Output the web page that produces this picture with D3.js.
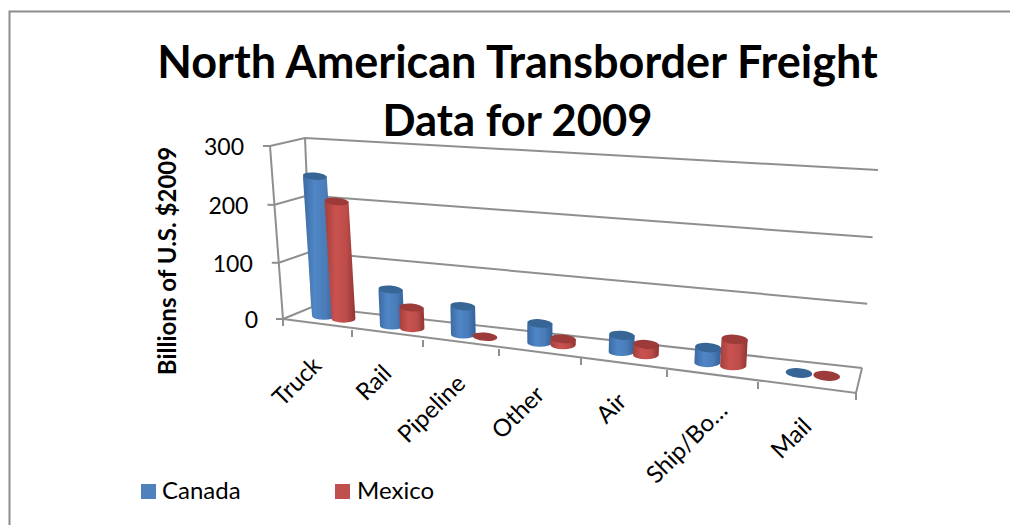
<!DOCTYPE html>
<html><head><meta charset="utf-8">
<script src="https://cdnjs.cloudflare.com/ajax/libs/d3/7.8.5/d3.min.js"></script>
<style>html,body{margin:0;padding:0;background:#fff}svg{display:block}text{font-family:Lato,"Open Sans",sans-serif;fill:#000}</style>
</head><body><svg id="c" width="1010" height="525"></svg>
<script>
const categories=["Truck","Rail","Pipeline","Other","Air","Ship/Bo\u2026","Mail"];
const canada=[245,63,48,32,27,24,0];
const mexico=[205,36,0,10,17,42,0];
const valueTicks=[0,100,200,300];
const titleLines=["North American Transborder Freight","Data for 2009"];
const yAxisTitle="Billions of U.S. $2009";
const seriesNames=["Canada","Mexico"];

const svg=d3.select("#c");
const gridCol="#8f8f8f";
// frame
svg.append("path").attr("d","M9.5,525V11.5H1010").attr("fill","none").attr("stroke","#8c8c8c").attr("stroke-width",2);

// perspective model
const idx=d3.range(8);
const fx=d3.scaleLinear().domain(idx).range([283,352,423,499,581,667,758,856]);
const fy=d3.scaleLinear().domain(idx).range([319,330,340,349,358,370,382,393]);
const lerp=(a,b,k)=>a+(b-a)*k;
const backX=t=>312+(550/573)*(fx(t)-283);
const backY=t=>307+(61/74)*(fy(t)-319);
const vk=d3.scaleLinear().domain(valueTicks).range([0,.325,.66,1]);
function topXY(t,d){
  const k=(fx(t)-283)/573;
  const X0=lerp(270,874,k),Y0=lerp(146,193,k),X1=lerp(305,878,k),Y1=lerp(138,170,k);
  return [lerp(X0,X1,d),lerp(Y0,Y1,d)];
}
function project(t,d,v,topD){
  const bx=lerp(fx(t),backX(t),d),by=lerp(fy(t),backY(t),d);
  const p=topXY(t,topD===undefined?d:topD);
  return [lerp(bx,p[0],vk(v)),lerp(by,p[1],vk(v))];
}
const line=d3.line();

// walls / gridlines
const walls=svg.append("g").attr("fill","none").attr("stroke",gridCol).attr("stroke-width",2);
valueTicks.forEach(v=>{
  walls.append("path").attr("d",line([project(0,0,v),project(0,1,v),project(7,1,v)]));
  const p=project(0,0,v);
  walls.append("path").attr("d",line([[p[0]-7,p[1]],p]));
});
walls.append("path").attr("d",line([project(0,0,0),project(0,0,300)]));
walls.append("path").attr("d",line([project(0,1,0),project(0,1,300)]));
walls.append("path").attr("d",line([project(0,0,0),project(7,0,0),project(7,1,0)]));
idx.forEach(i=>{
  const p=project(i,0,0);
  walls.append("path").attr("d",line([p,[p[0],p[1]+7]]));
});

// value labels
svg.append("g").selectAll("text").data(valueTicks).join("text")
  .attr("x",v=>project(0,0,v)[0]-26+ (v===0?1:0)).attr("y",v=>project(0,0,v)[1]+9)
  .attr("text-anchor","end").attr("font-size",23).text(v=>v);

// defs for gradients
const defs=svg.append("defs");
function grad(id,stops){
  const g=defs.append("linearGradient").attr("id",id);
  stops.forEach(s=>g.append("stop").attr("offset",s[0]).attr("stop-color",s[1]));
}
grad("gb",[[0,"#3c6aa3"],[.35,"#4f86c6"],[.7,"#4a7cb8"],[1,"#33609a"]]);
grad("gr",[[0,"#a33f3c"],[.35,"#c9524f"],[.7,"#bd4d4a"],[1,"#8f3533"]]);
const series=[{v:canada,off:.37,g:"gb",top:"#376596"},{v:mexico,off:.66,g:"gr",top:"#9c3b39"}];

const barsG=svg.append("g");
categories.forEach((c,i)=>{
  series.forEach(s=>{
    const t=i+s.off,d=.55,val=s.v[i];
    const k=t/7;
    const rx=lerp(11.8,13.4,k),ry=lerp(3.6,5,k);
    const b=project(t,d,0),a=project(t,d,val,.47);
    const g=barsG.append("g");
    if(val>0){
      g.append("path").attr("fill",`url(#${s.g})`)
       .attr("d",`M${a[0]-rx},${a[1]}L${b[0]-rx},${b[1]}A${rx},${ry} 0 0 0 ${b[0]+rx},${b[1]}L${a[0]+rx},${a[1]}Z`);
    }
    g.append("ellipse").attr("cx",a[0]).attr("cy",a[1]).attr("rx",rx).attr("ry",ry)
      .attr("fill",s.top).attr("transform",`rotate(5 ${a[0]} ${a[1]})`);
  });
});

// category labels
const labelAnchors=[[323,367],[393,375],[467,385],[546,396],[628,403],[729,412],[813,428]];
svg.append("g").selectAll("text").data(categories).join("text")
  .attr("text-anchor","end").attr("font-size",24)
  .attr("transform",(c,i)=>`translate(${labelAnchors[i][0]},${labelAnchors[i][1]}) rotate(-45)`)
  .text(c=>c);

// titles
svg.append("g").selectAll("text").data(titleLines).join("text")
  .attr("x",517.5).attr("y",(d,i)=>i?136:78).attr("text-anchor","middle")
  .attr("font-size",(d,i)=>i?43.5:45).attr("font-weight",700).text(d=>d);
svg.append("text").attr("transform","translate(176,261) rotate(-90)").attr("text-anchor","middle")
  .attr("font-size",24).attr("font-weight",700).text(yAxisTitle);

// legend
const lg=svg.append("g");
[[141,"#4F81BD",162],[335,"#C0504D",357]].forEach((e,i)=>{
  lg.append("rect").attr("x",e[0]).attr("y",484).attr("width",15).attr("height",15).attr("fill",e[1]);
  lg.append("text").attr("x",e[2]).attr("y",499).attr("font-size",24).text(seriesNames[i]);
});
</script></body></html>
